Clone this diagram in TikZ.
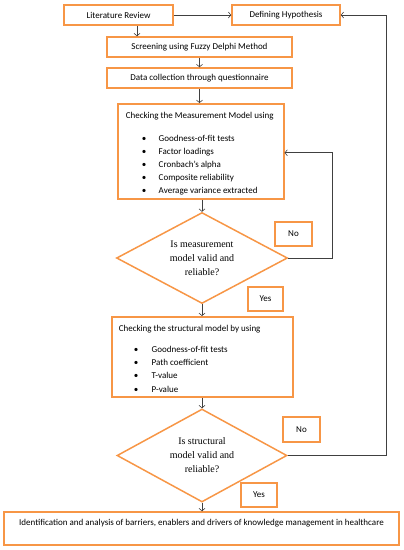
\documentclass[tikz,border=0pt]{standalone}
\usepackage{fontspec}
\setmainfont{Carlito}
\newfontfamily\dfont{Liberation Serif}
\usetikzlibrary{shapes.geometric,arrows.meta}
\definecolor{orng}{HTML}{F79646}
\definecolor{lnk}{HTML}{404040}
\begin{document}
\begin{tikzpicture}[x=1pt,y=-1pt,
  box/.style={draw=orng,line width=1.5pt,inner sep=0pt,font=\fontsize{9}{11}\selectfont},
  dia/.style={draw=orng,line width=1.5pt,diamond,aspect=1.88,inner sep=0pt,align=center,font=\dfont\fontsize{10}{14}\selectfont},
  conn/.style={draw=lnk,line width=0.6pt,-{Straight Barb[length=2.5pt,width=6pt]}}]
\useasboundingbox (0,0) rectangle (404,550);
\node[box,minimum width=109pt,minimum height=20pt] (lit) at (118.5,15) {Literature Review};
\node[box,minimum width=108pt,minimum height=20pt] (hyp) at (286,15) {Defining Hypothesis};
\node[box,minimum width=185pt,minimum height=20pt] (scr) at (199.5,47) {Screening using Fuzzy Delphi Method};
\node[box,minimum width=185pt,minimum height=20pt] (dat) at (199.5,78) {Data collection through questionnaire};
\node[box,anchor=north west] (meas) at (117,103) {\parbox[t][95pt][t]{166pt}{\fontsize{9}{13}\selectfont
\vspace*{8pt}\hspace*{8pt}Checking the Measurement Model using\par
\vspace{10pt}
\hspace*{24pt}\makebox[17pt][l]{\textbullet}Goodness-of-fit tests\par
\hspace*{24pt}\makebox[17pt][l]{\textbullet}Factor loadings\par
\hspace*{24pt}\makebox[17pt][l]{\textbullet}Cronbach’s alpha\par
\hspace*{24pt}\makebox[17pt][l]{\textbullet}Composite reliability\par
\hspace*{24pt}\makebox[17pt][l]{\textbullet}Average variance extracted\par}};
\node[dia,minimum width=171pt,minimum height=91pt] (d1) at (202,258) {Is measurement\\model valid and\\reliable?};
\node[box,minimum width=37pt,minimum height=24pt] (no1) at (293.5,234) {No};
\node[box,minimum width=35pt,minimum height=24pt] (yes1) at (265.5,299) {Yes};
\node[box,anchor=north west] (str) at (111,316) {\parbox[t][80pt][t]{181pt}{\fontsize{9}{13.3}\selectfont
\vspace*{8pt}\hspace*{7pt}Checking the structural model by using\par
\vspace{8pt}
\hspace*{22pt}\makebox[18pt][l]{\textbullet}Goodness-of-fit tests\par
\hspace*{22pt}\makebox[18pt][l]{\textbullet}Path coefficient\par
\hspace*{22pt}\makebox[18pt][l]{\textbullet}T-value\par
\hspace*{22pt}\makebox[18pt][l]{\textbullet}P-value\par}};
\node[dia,minimum width=170pt,minimum height=93pt] (d2) at (202,455.5) {Is structural\\model valid and\\reliable?};
\node[box,minimum width=37pt,minimum height=25pt] (no2) at (301.5,429.5) {No};
\node[box,minimum width=36pt,minimum height=24pt] (yes2) at (259,495) {Yes};
\node[box,minimum width=395pt,minimum height=33pt,align=center] (fin) at (201.5,528.5) {Identification and analysis of barriers, enablers and drivers of knowledge management in healthcare\\[1pt]\mbox{}};
\draw[conn] (lit.east) -- (hyp.west);
\draw[conn] ([xshift=18.5pt]lit.south) -- ([xshift=18.5pt]lit.south |- scr.north);
\draw[conn] (scr.south) -- (dat.north);
\draw[conn] (dat.south) -- (dat.south |- meas.north);
\draw[conn] (meas.south -| d1.north) -- (d1.north);
\draw[conn] (d1.south) -- (d1.south |- str.north);
\draw[conn] (str.south -| d2.north) -- (d2.north);
\draw[conn] (d2.south) -- (d2.south |- fin.north);
\draw[conn] (d1.east) -- ++(44,0) |- ([yshift=-1.5pt]meas.east);
\draw[conn] (d2.east) -- ++(99,0) |- (hyp.east);
\end{tikzpicture}
\end{document}
